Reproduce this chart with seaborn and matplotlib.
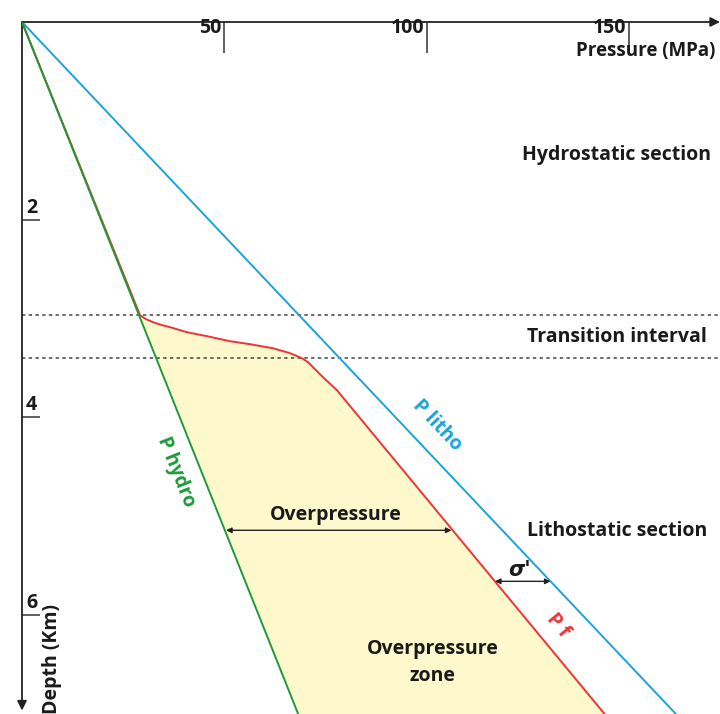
import numpy as np
import pandas as pd
import matplotlib
matplotlib.use("Agg")
import matplotlib.pyplot as plt
import seaborn as sns

# ---- data (pressure in MPa, depth in km) ----
hydro_p = [0.0, 68.25]
hydro_z = [0.0, 7.0]
litho_p = [0.0, 161.6]
litho_z = [0.0, 7.0]
pf_p = [0.0, 29.16, 30.6, 32.37, 34.4, 36.57, 40.77, 45.71, 51.40, 56.34, 62.02, 66.22,
        69.19, 70.8, 71.91, 74.38, 77.84, 144.06]
pf_z = [0.0, 2.966, 3.005, 3.036, 3.064, 3.087, 3.138, 3.178, 3.229, 3.259, 3.300, 3.350,
        3.401, 3.445, 3.492, 3.593, 3.725, 7.004]
transition_top = 2.966
transition_bottom = 3.40
xtick_vals = [50, 100, 150]
ytick_vals = [2, 4, 6]

sns.set_theme(style="white")
plt.rcParams['font.family'] = ['Open Sans', 'DejaVu Sans']

fig = plt.figure(figsize=(7.2, 7.14), dpi=100)
ax = fig.add_axes([22/720, 0.0, 698/720, 692/714])
ax.set_xlim(0, 172.5)
ax.set_ylim(7.0, 0)

BLUE = "#1aa3dc"
GREEN = "#1e9a3a"
RED = "#ee3434"
DARK = "#1a1a1a"

# fill (overpressure zone)
pf_p_arr = np.array(pf_p)
pf_z_arr = np.array(pf_z)
mask = pf_z_arr >= transition_top - 1e-6
hz = np.interp(pf_z_arr[mask], hydro_z, hydro_p)
ax.fill_betweenx(pf_z_arr[mask], hz, pf_p_arr[mask], color="#fdf9cc", lw=0, zorder=1)

df_pf = pd.DataFrame({"p": pf_p, "z": pf_z})
sns.lineplot(data=df_pf, x="p", y="z", sort=False, estimator=None, color=RED, lw=1.4, ax=ax, zorder=3)
sns.lineplot(x=litho_p, y=litho_z, sort=False, estimator=None, color=BLUE, lw=1.4, ax=ax, zorder=3)
sns.lineplot(x=hydro_p, y=hydro_z, sort=False, estimator=None, color=GREEN, lw=1.4, ax=ax, zorder=4)

for zz in (transition_top, transition_bottom):
    ax.axhline(zz, color="#444444", lw=1.1, ls=(0, (2.2, 2.2)), zorder=2)

# axes styling
for s in ax.spines.values():
    s.set_visible(False)
ax.set_xlabel("")
ax.set_ylabel("")
ax.xaxis.tick_top()
ax.set_xticks(xtick_vals)
ax.set_yticks(ytick_vals)
ax.tick_params(axis='x', direction='in', length=22, width=1.1, color="#333333",
               labeltop=False, labelbottom=False, top=True, bottom=False)
ax.tick_params(axis='y', direction='in', length=13, width=1.1, color="#333333",
               labelleft=False, left=True)

ax.annotate("", xy=(1.0, 1.0), xytext=(0.0, 1.0), xycoords='axes fraction',
            arrowprops=dict(arrowstyle='-|>', color="#222222", lw=1.3,
                            mutation_scale=14, shrinkA=0, shrinkB=0), annotation_clip=False)
ax.annotate("", xy=(0.0, 0.005), xytext=(0.0, 1.0), xycoords='axes fraction',
            arrowprops=dict(arrowstyle='-|>', color="#222222", lw=1.3,
                            mutation_scale=14, shrinkA=0, shrinkB=0), annotation_clip=False)

tfs = 14
for v in xtick_vals:
    ax.text(v - 0.6, -0.04, str(v), ha='right', va='top', fontsize=tfs, fontweight='bold', color=DARK)
for v in ytick_vals:
    ax.text(1.0, v - 0.02, str(v), ha='left', va='bottom', fontsize=tfs, fontweight='bold', color=DARK)

ax.text(171.4, 0.19, "Pressure (MPa)", ha='right', va='top', fontsize=13.5, fontweight='bold', color=DARK)
ax.text(7.4, 7.0, "Depth (Km)", ha='center', va='bottom', rotation=90, fontsize=14,
        fontweight='bold', color=DARK)

sfs = 14
ax.text(147, 1.35, "Hydrostatic section", ha='center', va='center', fontsize=sfs, fontweight='bold', color=DARK)
ax.text(147, 3.19, "Transition interval", ha='center', va='center', fontsize=sfs, fontweight='bold', color=DARK)
ax.text(147, 5.15, "Lithostatic section", ha='center', va='center', fontsize=sfs, fontweight='bold', color=DARK)

ax.text(102.5, 4.08, "P litho", ha='center', va='center', rotation=-46.6, fontsize=14,
        fontweight='bold', color=BLUE, rotation_mode='anchor')
ax.text(38.0, 4.55, "P hydro", ha='center', va='center', rotation=-68.3, fontsize=14,
        fontweight='bold', color=GREEN, rotation_mode='anchor')
ax.text(132.5, 6.1, "P f", ha='center', va='center', rotation=-50.4, fontsize=14,
        fontweight='bold', color=RED, rotation_mode='anchor')

# Overpressure arrow
zo = (530 - 22) / 98.8
ax.annotate("", xy=(np.interp(zo, pf_z, pf_p) - 0.3, zo), xytext=(np.interp(zo, hydro_z, hydro_p) + 0.3, zo),
            arrowprops=dict(arrowstyle='<|-|>', color="#222222", lw=1.0, mutation_scale=8,
                            shrinkA=0, shrinkB=0))
ax.text(77.5, 4.99, "Overpressure", ha='center', va='center', fontsize=14, fontweight='bold', color=DARK)

# sigma' arrow
zs = (581 - 22) / 98.8
ax.annotate("", xy=(np.interp(zs, litho_z, litho_p), zs), xytext=(np.interp(zs, pf_z, pf_p), zs),
            arrowprops=dict(arrowstyle='<|-|>', color="#222222", lw=1.0, mutation_scale=8,
                            shrinkA=0, shrinkB=0))
ax.text(123.0, 5.54, "σ'", ha='center', va='center', fontsize=15, fontweight='bold',
        color=DARK, family=['DejaVu Sans'], style='italic')

ax.text(101.5, 6.48, "Overpressure\nzone", ha='center', va='center', fontsize=14,
        fontweight='bold', color=DARK, linespacing=1.45)

fig.savefig("out.png", dpi=100)
